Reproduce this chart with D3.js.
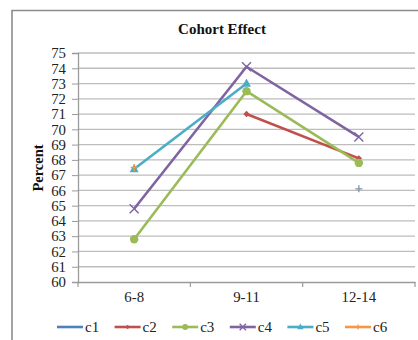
<!DOCTYPE html>
<html>
<head>
<meta charset="utf-8">
<script src="https://cdnjs.cloudflare.com/ajax/libs/d3/7.8.5/d3.min.js"></script>
<style>
  html, body { margin: 0; padding: 0; background: #fff; }
  svg { display: block; }
</style>
</head>
<body>
<svg id="chart" width="418" height="340"></svg>
<script>
// Age groups along the x axis
const categories = ["6-8", "9-11", "12-14"];
// Series names
const seriesNames = ["c1", "c2", "c3", "c4", "c5", "c6"];
// Values per series, one per age group (null = no value)
const c1 = [null, null, null];
const c2 = [null, 71.0, 68.1];
const c3 = [62.8, 72.5, 67.8];
const c4 = [64.8, 74.1, 69.5];
const c5 = [67.4, 73.0, null];
const c6 = [67.5, null, 66.1];
const yTicks = [60, 61, 62, 63, 64, 65, 66, 67, 68, 69, 70, 71, 72, 73, 74, 75];

const seriesValues = [c1, c2, c3, c4, c5, c6];
const colors = ["#4f81bd", "#c0504d", "#9bbb59", "#8064a2", "#4bacc6", "#f79646"];
const markers = ["none", "diamond", "circle", "cross", "triangle", "plus"];

const svg = d3.select("#chart");
const serif = "'Liberation Serif', 'DejaVu Serif', serif";

// Outer chart frame
svg.append("path")
  .attr("d", "M12,340 V10.5 H418")
  .attr("fill", "none").attr("stroke", "#8c8c8c").attr("stroke-width", 1.6);

const plot = { left: 78, right: 415, top: 53, bottom: 282 };

const x = d3.scaleBand().domain(categories).range([plot.left, plot.right]);
const y = d3.scaleLinear().domain([60, 75]).range([plot.bottom, plot.top]);

// Horizontal gridlines
svg.append("g")
  .selectAll("line").data(yTicks.filter(t => t > 60)).join("line")
  .attr("x1", plot.left).attr("x2", plot.right)
  .attr("y1", d => y(d)).attr("y2", d => y(d))
  .attr("stroke", "#bdbdbd").attr("stroke-width", 1.3);

// Y axis
const yAxis = svg.append("g")
  .attr("transform", `translate(${plot.left},0)`)
  .call(d3.axisLeft(y).tickValues(yTicks).tickSize(6).tickPadding(6).tickFormat(d3.format("d")));
yAxis.select(".domain").attr("stroke", "#9a9a9a").attr("stroke-width", 1.3);
yAxis.selectAll(".tick line").attr("stroke", "#9a9a9a");
yAxis.selectAll(".tick text")
  .attr("font-family", serif).attr("font-size", 14.8).attr("fill", "#222");

// X axis
const xAxis = svg.append("g")
  .attr("transform", `translate(0,${plot.bottom})`)
  .call(d3.axisBottom(x).tickSize(0).tickPadding(9));
xAxis.select(".domain").attr("stroke", "#9a9a9a").attr("stroke-width", 1.3);
xAxis.selectAll(".tick text")
  .attr("font-family", serif).attr("font-size", 14.8).attr("fill", "#222");
// Category separators
svg.append("g")
  .selectAll("line").data(categories).join("line")
  .attr("x1", d => x(d) + x.bandwidth()).attr("x2", d => x(d) + x.bandwidth())
  .attr("y1", plot.bottom).attr("y2", plot.bottom + 5)
  .attr("stroke", "#9a9a9a").attr("stroke-width", 1.2);
svg.append("line")
  .attr("x1", plot.left).attr("x2", plot.left)
  .attr("y1", plot.bottom).attr("y2", plot.bottom + 5)
  .attr("stroke", "#9a9a9a").attr("stroke-width", 1.2);

// Title and axis label
svg.append("text")
  .attr("x", 222).attr("y", 34).attr("text-anchor", "middle")
  .attr("font-family", serif).attr("font-size", 15).attr("font-weight", "bold")
  .attr("fill", "#111").text("Cohort Effect");
svg.append("text")
  .attr("transform", `translate(43,168) rotate(-90)`)
  .attr("text-anchor", "middle")
  .attr("font-family", serif).attr("font-size", 14.5).attr("font-weight", "bold")
  .attr("fill", "#111").text("Percent");

function drawMarker(g, type, color, size) {
  const s = size;
  if (type === "diamond") {
    g.append("path").attr("d", `M0,${-s} L${s},0 L0,${s} L${-s},0 Z`).attr("fill", color);
  } else if (type === "circle") {
    g.append("circle").attr("r", s).attr("fill", color);
  } else if (type === "triangle") {
    g.append("path").attr("d", `M0,${-s * 1.1} L${s},${s * 0.7} L${-s},${s * 0.7} Z`).attr("fill", color);
  } else if (type === "cross") {
    g.append("path").attr("d", `M${-s},${-s} L${s},${s} M${-s},${s} L${s},${-s}`)
      .attr("stroke", color).attr("stroke-width", 1.4).attr("fill", "none");
  } else if (type === "plus") {
    g.append("path").attr("d", `M${-s},0 L${s},0 M0,${-s} L0,${s}`)
      .attr("stroke", color).attr("stroke-width", 1.3).attr("fill", "none");
  }
}

const markerSize = { diamond: 3.2, circle: 4.2, triangle: 4.5, cross: 4.5, plus: 3.5 };

const line = d3.line()
  .defined(d => d.v !== null)
  .x(d => x(d.c) + x.bandwidth() / 2)
  .y(d => y(d.v));

seriesValues.forEach((vals, i) => {
  const pts = categories.map((c, j) => ({ c, v: vals[j] }));
  svg.append("path").datum(pts)
    .attr("d", line)
    .attr("fill", "none").attr("stroke", colors[i]).attr("stroke-width", 2.6)
    .attr("stroke-linejoin", "round");
  pts.filter(p => p.v !== null).forEach(p => {
    // the 12-14 point of c6 stands alone in a muted slate tone
    const col = (i === 5 && p.c === "12-14") ? "#7f93ad" : colors[i];
    const g = svg.append("g")
      .attr("transform", `translate(${x(p.c) + x.bandwidth() / 2},${y(p.v)})`);
    drawMarker(g, markers[i], col, markerSize[markers[i]] || 0);
  });
});

// Legend
const legend = svg.append("g").attr("transform", "translate(57,327)");
seriesNames.forEach((name, i) => {
  const g = legend.append("g").attr("transform", `translate(${i * 57.6},0)`);
  g.append("line").attr("x1", 0).attr("x2", 26).attr("y1", 0).attr("y2", 0)
    .attr("stroke", colors[i]).attr("stroke-width", 2.6);
  const m = g.append("g").attr("transform", "translate(13,0)");
  drawMarker(m, markers[i], colors[i], (markerSize[markers[i]] || 0) * 0.7);
  g.append("text").attr("x", 28).attr("y", 5)
    .attr("font-family", serif).attr("font-size", 15).attr("fill", "#222").text(name);
});
</script>
</body>
</html>
